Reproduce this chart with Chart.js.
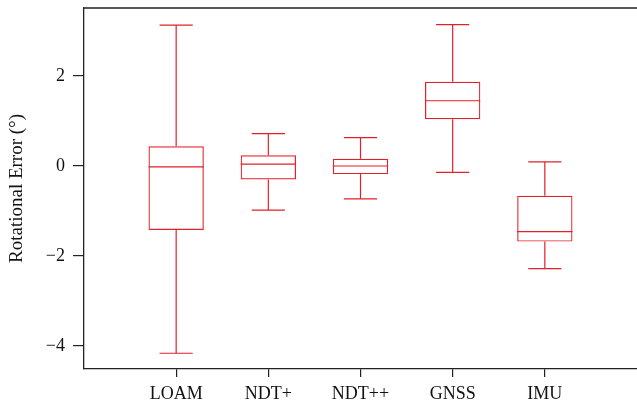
<!DOCTYPE html>
<html>
<head>
<meta charset="utf-8">
<script src="https://cdn.jsdelivr.net/npm/chart.js@4/dist/chart.umd.min.js"></script>
<style>
  html, body { margin: 0; padding: 0; background: #ffffff; }
  #wrap { width: 637px; height: 405px; }
</style>
</head>
<body>
<div id="wrap"><canvas id="c" width="637" height="405"></canvas></div>
<script>
// Rotational error distribution per localisation method (degrees)
const categories = ['LOAM', 'NDT+', 'NDT++', 'GNSS', 'IMU'];
const whiskerLow  = [-4.16, -0.98, -0.73, -0.14, -2.28];
const quartile1   = [-1.42, -0.30, -0.18,  1.04, -1.68];
const medians     = [-0.02,  0.04,  0.00,  1.45, -1.46];
const quartile3   = [ 0.44,  0.24,  0.16,  1.87, -0.66];
const whiskerHigh = [ 3.13,  0.72,  0.63,  3.14,  0.09];
const yTickValues = [-4, -2, 0, 2];

const RED = '#e2202a';
const AXIS = '#222222';
const FONT = "'Liberation Serif', 'Times New Roman', serif";

function strokeLine(ctx, x1, y1, x2, y2) {
  ctx.beginPath(); ctx.moveTo(x1, y1); ctx.lineTo(x2, y2); ctx.stroke();
}

// Whiskers, caps and median lines, placed with the chart's own scales
const boxExtras = {
  id: 'boxExtras',
  afterDatasetsDraw(chart) {
    const xs = chart.scales.x, ys = chart.scales.y;
    const meta = chart.getDatasetMeta(0);
    const ctx = chart.ctx;
    ctx.save();
    ctx.strokeStyle = RED;
    ctx.lineWidth = 1.2;
    categories.forEach((name, i) => {
      const x = xs.getPixelForValue(i + 1);
      const bw = meta.data[i].width;
      const cap = bw * 0.3;
      const yHi = ys.getPixelForValue(whiskerHigh[i]);
      const yLo = ys.getPixelForValue(whiskerLow[i]);
      const yMed = ys.getPixelForValue(medians[i]);
      strokeLine(ctx, x, ys.getPixelForValue(quartile3[i]), x, yHi);
      strokeLine(ctx, x - cap, yHi, x + cap, yHi);
      strokeLine(ctx, x, ys.getPixelForValue(quartile1[i]), x, yLo);
      strokeLine(ctx, x - cap, yLo, x + cap, yLo);
      strokeLine(ctx, x - bw / 2, yMed, x + bw / 2, yMed);
    });
    // top frame line
    const a = chart.chartArea;
    ctx.strokeStyle = AXIS;
    ctx.lineWidth = 1.3;
    strokeLine(ctx, a.left, a.top, a.right, a.top);
    ctx.restore();
  }
};

new Chart(document.getElementById('c'), {
  type: 'bar',
  data: {
    datasets: [{
      data: categories.map((c, i) => ({ x: i + 1, y: [quartile1[i], quartile3[i]] })),
      backgroundColor: 'rgba(0,0,0,0)',
      borderColor: RED,
      borderWidth: 1.2,
      borderSkipped: false,
      categoryPercentage: 1,
      barPercentage: 0.6
    }]
  },
  options: {
    responsive: false,
    animation: false,
    layout: { padding: { top: 8, right: 0, left: 0, bottom: 0 } },
    plugins: { legend: { display: false }, tooltip: { enabled: false } },
    scales: {
      x: {
        type: 'linear',
        min: 0,
        max: 6,
        offset: false,
        afterBuildTicks: (s) => { s.ticks = categories.map((c, i) => ({ value: i + 1 })); },
        afterFit: (s) => { s.height = 36; s.paddingLeft = 0; s.paddingRight = 0; },
        ticks: {
          callback: (v) => categories[v - 1],
          font: { family: FONT, size: 18 },
          color: '#111',
          padding: 6,
          maxRotation: 0,
          autoSkip: false
        },
        grid: { offset: false, drawOnChartArea: false, drawTicks: true, tickLength: 8, color: AXIS, lineWidth: 1.2 },
        border: { display: true, color: AXIS, width: 1.3 }
      },
      y: {
        min: -4.51,
        max: 3.51,
        afterBuildTicks: (s) => { s.ticks = yTickValues.map(v => ({ value: v })); },
        afterFit: (s) => { s.width = 84; s.paddingTop = 0; s.paddingBottom = 0; },
        ticks: {
          callback: (v) => v < 0 ? '\u2212' + Math.abs(v) : String(v),
          font: { family: FONT, size: 18 },
          color: '#111',
          padding: 8
        },
        grid: { drawOnChartArea: false, drawTicks: true, tickLength: 11, color: AXIS, lineWidth: 1.2 },
        border: { display: true, color: AXIS, width: 1.3 },
        title: {
          display: true,
          text: 'Rotational Error (\u00B0)',
          font: { family: FONT, size: 19 },
          color: '#111',
          padding: { top: 6, bottom: 0 }
        }
      }
    }
  },
  plugins: [boxExtras]
});
</script>
</body>
</html>
